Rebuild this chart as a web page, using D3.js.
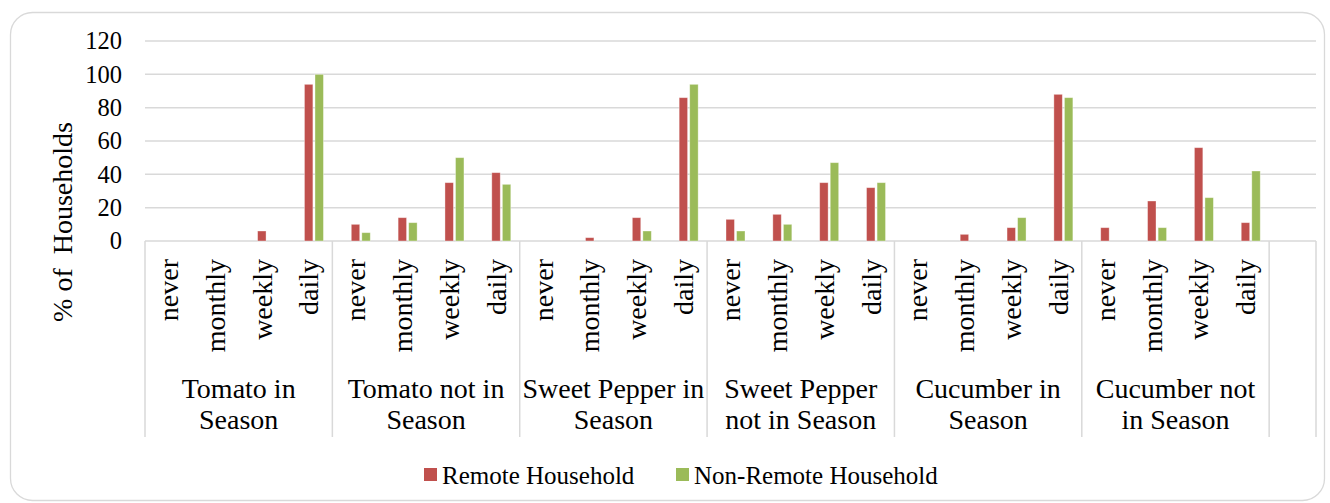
<!DOCTYPE html>
<html>
<head>
<meta charset="utf-8">
<script src="https://cdn.jsdelivr.net/npm/d3@7"></script>
<style>
  html, body { margin: 0; padding: 0; background: #fff; }
  svg { display: block; }
</style>
</head>
<body>
<svg id="chart" width="1330" height="503" font-family="'Liberation Serif', serif"></svg>
<script>
// ---- data ----
const groups = [
  ["Tomato in", "Season"],
  ["Tomato not in", "Season"],
  ["Sweet Pepper in", "Season"],
  ["Sweet Pepper", "not in Season"],
  ["Cucumber in", "Season"],
  ["Cucumber not", "in Season"]
];
const frequencies = ["never", "monthly", "weekly", "daily"];
const seriesNames = ["Remote Household", "Non-Remote Household"];
const remote    = [0, 0, 6, 94,  10, 14, 35, 41,  0, 2, 14, 86,  13, 16, 35, 32,  0, 4, 8, 88,  8, 24, 56, 11];
const nonRemote = [0, 0, 0, 100, 5, 11, 50, 34,   0, 0, 6, 94,   6, 10, 47, 35,   0, 0, 14, 86,  0, 8, 26, 42];
const yTicks = [0, 20, 40, 60, 80, 100, 120];
const colors = ["#C0504D", "#9BBB59"];

(function () {
const FONT = "'Liberation Serif', serif";
const svg = d3.select("#chart");
const pLeft = 145, pRight = 1316, pTop = 41, pBottom = 241, sepBottom = 437;

const cats = [];
groups.forEach((g, gi) => frequencies.forEach((f, fi) => cats.push({ key: gi + "-" + fi, g: gi, f: f })));
const catKeys = cats.map(c => c.key).concat(["blank"]);

const x = d3.scaleBand().domain(catKeys).range([pLeft, pRight]).padding(0);
const y = d3.scaleLinear().domain([0, 120]).range([pBottom, pTop]);
const sub = d3.scaleBand().domain(seriesNames).range([-9.5, 9.5]).paddingInner(0.2);
const barShift = 5;

svg.append("rect").attr("x", 10.5).attr("y", 12.5).attr("width", 1314).attr("height", 488)
  .attr("rx", 22).attr("fill", "#fff").attr("stroke", "#d9d9d9").attr("stroke-width", 1.3);

svg.append("g").selectAll("line").data(yTicks).join("line")
  .attr("x1", pLeft).attr("x2", pRight)
  .attr("y1", d => y(d)).attr("y2", d => y(d))
  .attr("stroke", "#d9d9d9").attr("stroke-width", 1.5);

svg.append("g").selectAll("text").data(yTicks).join("text")
  .attr("x", 122).attr("y", d => y(d)).attr("dy", "0.34em")
  .attr("text-anchor", "end").attr("font-family", FONT).attr("font-size", 24.5)
  .text(d => d);

svg.append("text")
  .attr("transform", "translate(72,222) rotate(-90)")
  .attr("text-anchor", "middle").attr("font-family", FONT).attr("font-size", 28)
  .attr("xml:space", "preserve")
  .text("% of  Households");

const barData = [];
cats.forEach((c, i) => {
  barData.push({ key: c.key, s: seriesNames[0], v: remote[i], color: colors[0] });
  barData.push({ key: c.key, s: seriesNames[1], v: nonRemote[i], color: colors[1] });
});
svg.append("g").selectAll("rect").data(barData.filter(d => d.v > 0)).join("rect")
  .attr("x", d => x(d.key) + x.bandwidth() / 2 + barShift + sub(d.s))
  .attr("width", sub.bandwidth())
  .attr("y", d => y(d.v))
  .attr("height", d => y(0) - y(d.v))
  .attr("fill", d => d.color)
  .attr("stroke", "#ffffff").attr("stroke-opacity", 0.45).attr("stroke-width", 0.8);

const sepX = groups.map((g, gi) => x(gi + "-0")).concat([x("blank"), pRight]);
svg.append("g").selectAll("line").data(sepX).join("line")
  .attr("x1", d => d).attr("x2", d => d)
  .attr("y1", pBottom).attr("y2", sepBottom)
  .attr("stroke", "#d9d9d9").attr("stroke-width", 1.5);

svg.append("g").selectAll("text").data(cats).join("text")
  .attr("transform", d => `translate(${x(d.key) + x.bandwidth() / 2},259) rotate(-90)`)
  .attr("dy", 9.5)
  .attr("text-anchor", "end").attr("font-family", FONT).attr("font-size", 28)
  .text(d => d.f);

const gl = svg.append("g").selectAll("text").data(groups).join("text")
  .attr("text-anchor", "middle").attr("font-family", FONT).attr("font-size", 28);
gl.each(function (d, gi) {
  const cx = (x(gi + "-0") + x(gi + "-3") + x.bandwidth()) / 2;
  const t = d3.select(this);
  t.append("tspan").attr("x", cx).attr("y", 398).text(d[0]);
  t.append("tspan").attr("x", cx).attr("y", 429).text(d[1]);
});

const legendX = [424, 676];
const lg = svg.append("g").selectAll("g").data(seriesNames).join("g")
  .attr("transform", (d, i) => `translate(${legendX[i]},0)`);
lg.append("rect").attr("x", 0).attr("y", 468).attr("width", 13).attr("height", 13)
  .attr("fill", (d, i) => colors[i]);
lg.append("text").attr("x", 18).attr("y", 483.5).attr("font-family", FONT).attr("font-size", 25).text(d => d);
})();
</script>
</body>
</html>
